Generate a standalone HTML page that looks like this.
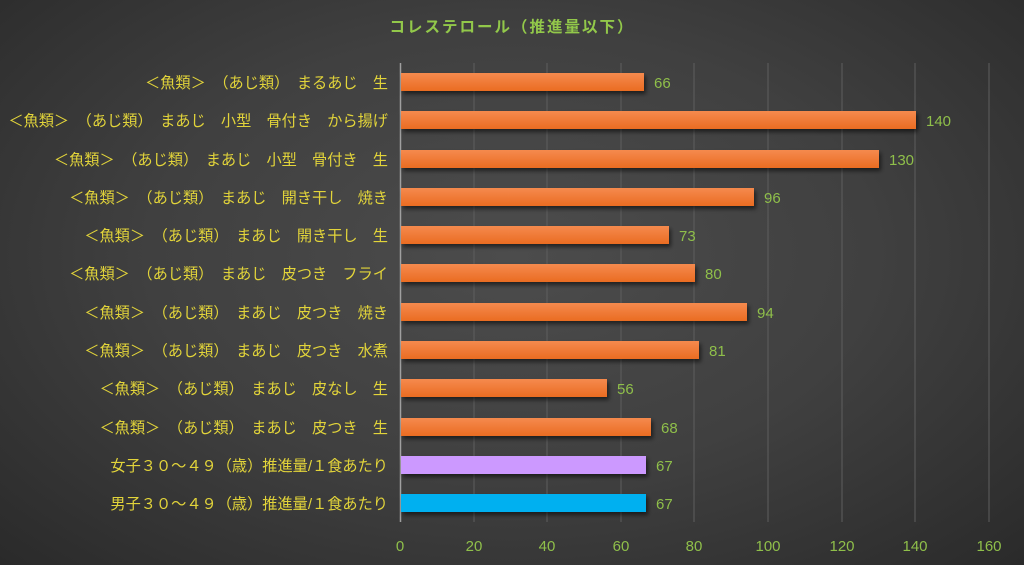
<!DOCTYPE html>
<html><head><meta charset="utf-8"><style>
html,body{margin:0;padding:0;}
body{width:1024px;height:565px;overflow:hidden;background:radial-gradient(ellipse at 50% 45%,#4c4c4c 0%,#404040 50%,#2a2a2a 100%);}
svg{display:block;font-family:"Liberation Sans","Noto Sans CJK JP",sans-serif;}
</style></head><body>
<svg width="1024" height="565" viewBox="0 0 1024 565">
<defs>
<linearGradient id="og" x1="0" y1="0" x2="0" y2="1"><stop offset="0" stop-color="#f58a4e"/><stop offset="1" stop-color="#ea6c22"/></linearGradient>
<filter id="sh" x="-5%" y="-30%" width="110%" height="180%"><feDropShadow dx="2" dy="3" stdDeviation="2" flood-color="#000" flood-opacity="0.55"/></filter>
</defs>
<text x="512" y="32" text-anchor="middle" font-size="15.5" font-weight="bold" fill="#92c84a" letter-spacing="2">コレステロール（推進量以下）</text>
<g stroke="#5e5e5e" stroke-width="1">
<line x1="474" y1="63" x2="474" y2="522"/><line x1="547" y1="63" x2="547" y2="522"/><line x1="621" y1="63" x2="621" y2="522"/><line x1="694" y1="63" x2="694" y2="522"/><line x1="768" y1="63" x2="768" y2="522"/><line x1="842" y1="63" x2="842" y2="522"/><line x1="915" y1="63" x2="915" y2="522"/><line x1="989" y1="63" x2="989" y2="522"/>
</g>
<line x1="400.5" y1="63" x2="400.5" y2="522" stroke="#a0a0a0" stroke-width="1.5"/>
<g font-size="15" fill="#8fbf4a" text-anchor="middle">
<text x="400" y="551">0</text><text x="474" y="551">20</text><text x="547" y="551">40</text><text x="621" y="551">60</text><text x="694" y="551">80</text><text x="768" y="551">100</text><text x="842" y="551">120</text><text x="915" y="551">140</text><text x="989" y="551">160</text>
</g>
<g filter="url(#sh)">
<rect x="401" y="73" width="243" height="18" fill="url(#og)"/>
<rect x="401" y="111" width="515" height="18" fill="url(#og)"/>
<rect x="401" y="150" width="478" height="18" fill="url(#og)"/>
<rect x="401" y="188" width="353" height="18" fill="url(#og)"/>
<rect x="401" y="226" width="268" height="18" fill="url(#og)"/>
<rect x="401" y="264" width="294" height="18" fill="url(#og)"/>
<rect x="401" y="303" width="346" height="18" fill="url(#og)"/>
<rect x="401" y="341" width="298" height="18" fill="url(#og)"/>
<rect x="401" y="379" width="206" height="18" fill="url(#og)"/>
<rect x="401" y="418" width="250" height="18" fill="url(#og)"/>
<rect x="401" y="456" width="245" height="18" fill="#cc99ff"/>
<rect x="401" y="494" width="245" height="18" fill="#00b0f0"/>
</g>
<g font-size="15" fill="#8fbf4a">
<text x="654" y="88">66</text><text x="926" y="126">140</text><text x="889" y="165">130</text><text x="764" y="203">96</text><text x="679" y="241">73</text><text x="705" y="279">80</text><text x="757" y="318">94</text><text x="709" y="356">81</text><text x="617" y="394">56</text><text x="661" y="433">68</text><text x="656" y="471">67</text><text x="656" y="509">67</text>
</g>
<g font-size="15.2" fill="#e2d43a" text-anchor="end">
<text x="388" y="88">＜魚類＞　（あじ類）　まるあじ　生</text>
<text x="388" y="126">＜魚類＞　（あじ類）　まあじ　小型　骨付き　から揚げ</text>
<text x="388" y="165">＜魚類＞　（あじ類）　まあじ　小型　骨付き　生</text>
<text x="388" y="203">＜魚類＞　（あじ類）　まあじ　開き干し　焼き</text>
<text x="388" y="241">＜魚類＞　（あじ類）　まあじ　開き干し　生</text>
<text x="388" y="279">＜魚類＞　（あじ類）　まあじ　皮つき　フライ</text>
<text x="388" y="318">＜魚類＞　（あじ類）　まあじ　皮つき　焼き</text>
<text x="388" y="356">＜魚類＞　（あじ類）　まあじ　皮つき　水煮</text>
<text x="388" y="394">＜魚類＞　（あじ類）　まあじ　皮なし　生</text>
<text x="388" y="433">＜魚類＞　（あじ類）　まあじ　皮つき　生</text>
<text x="388" y="471">女子３０～４９（歳）推進量/１食あたり</text>
<text x="388" y="509">男子３０～４９（歳）推進量/１食あたり</text>
</g>
</svg>
</body></html>
